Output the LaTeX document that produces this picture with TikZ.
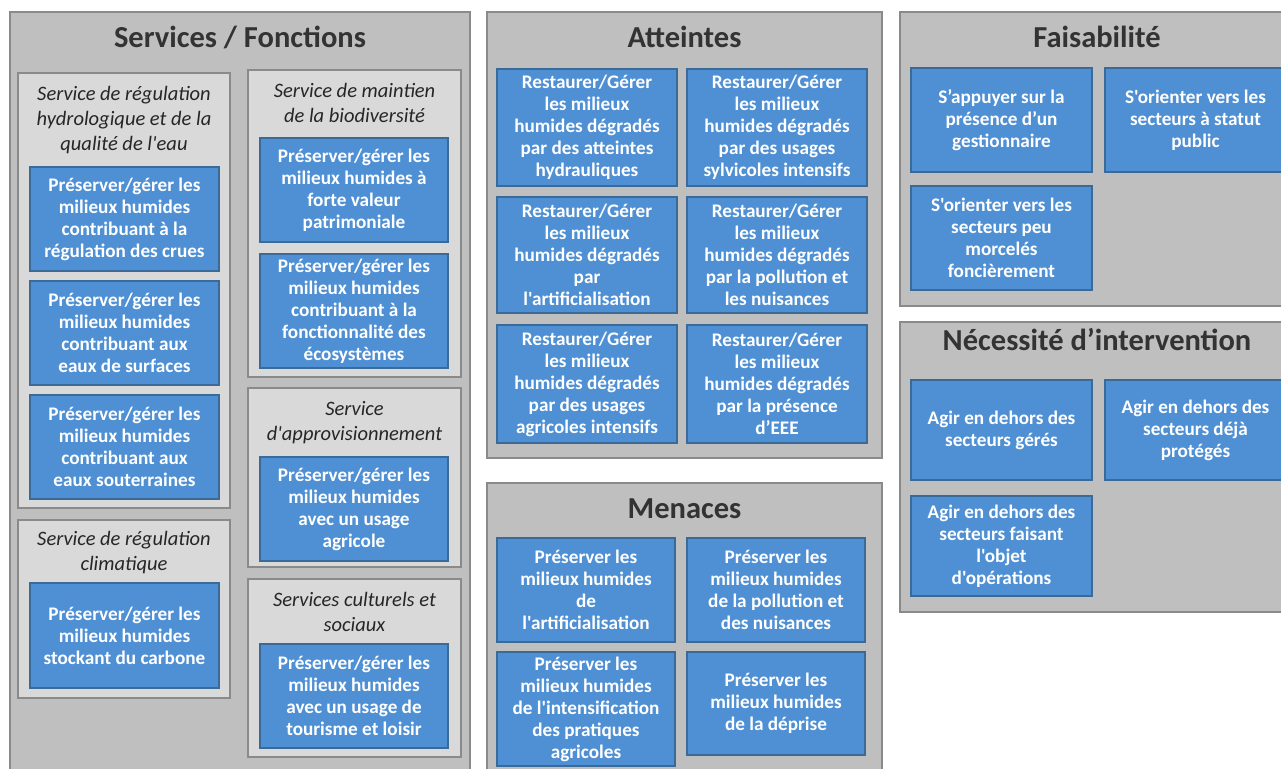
\documentclass[tikz,border=0pt]{standalone}
\usepackage{fontspec}
\newfontfamily\carl{Carlito}
\definecolor{panelfill}{HTML}{BFBFBF}
\definecolor{panelline}{HTML}{8A8A8A}
\definecolor{subfill}{HTML}{D9D9D9}
\definecolor{subline}{HTML}{8A8A8A}
\definecolor{bfill}{HTML}{4F90D4}
\definecolor{bline}{HTML}{3A6A98}
\definecolor{titletext}{HTML}{333333}
\definecolor{headtext}{HTML}{262626}
\tikzset{
  panel/.style={draw=panelline, fill=panelfill, line width=1.5pt, inner sep=0pt},
  subpanel/.style={draw=subline, fill=subfill, line width=1.5pt, inner sep=0pt},
  bbox/.style={draw=bline, fill=bfill, line width=1.3pt, inner sep=0pt, align=center,
    text=white, font=\carl\bfseries\fontsize{19.2}{22}\selectfont},
  ptitle/.style={anchor=base, inner sep=0pt, text=titletext,
    font=\carl\bfseries\fontsize{30.5}{36}\selectfont},
  shead/.style={anchor=north, inner sep=0pt, align=center, text=headtext,
    font=\carl\itshape\fontsize{20.5}{25}\selectfont},
}
% style, name, x1, y1, x2, y2, text
\newcommand{\rbox}[7]{%
  \node[#1, minimum width={#5-#3}, minimum height={#6-#4}] (#2)
    at ({(#3+#5)/2},{(#4+#6)/2}) {#7};}
\begin{document}
\begin{tikzpicture}[x=1pt,y=-1pt]
\useasboundingbox[fill=white] (0,0) rectangle (1281,768);

% ---------------- Services / Fonctions ----------------
\rbox{panel}{services}{10}{12}{470}{775}{}
\node[ptitle] (tservices) at (240,48) {Services / Fonctions};

\rbox{subpanel}{hydro}{18}{73}{230}{508}{}
\node[shead] (hhydro) at (124,82.5) {\strut Service de régulation\\hydrologique et de la\\qualité de l'eau};
\rbox{bbox}{s1}{30}{167}{219}{271}{Préserver/gérer les\\milieux humides\\contribuant à la\\régulation des crues}
\rbox{bbox}{s2}{30}{281}{219}{385}{Préserver/gérer les\\milieux humides\\contribuant aux\\eaux de surfaces}
\rbox{bbox}{s3}{30}{395}{219}{499}{Préserver/gérer les\\milieux humides\\contribuant aux\\eaux souterraines}

\rbox{subpanel}{clim}{18}{520}{230}{698}{}
\node[shead] (hclim) at (124,527.5) {\strut Service de régulation\\climatique};
\rbox{bbox}{s4}{30}{583}{219}{688}{Préserver/gérer les\\milieux humides\\stockant du carbone}

\rbox{subpanel}{bio}{248}{70}{461}{377}{}
\node[shead] (hbio) at (354.5,79.5) {\strut Service de maintien\\de la biodiversité};
\rbox{bbox}{s5}{260}{138}{448}{242}{Préserver/gérer les\\milieux humides à\\forte valeur\\patrimoniale}
\rbox{bbox}{s6}{260}{254}{448}{368}{Préserver/gérer les\\milieux humides\\contribuant à la\\fonctionnalité des\\écosystèmes}

\rbox{subpanel}{appro}{248}{388}{461}{567}{}
\node[shead] (happro) at (354.5,397.5) {\strut Service\\d'approvisionnement};
\rbox{bbox}{s7}{260}{457}{448}{561}{Préserver/gérer les\\milieux humides\\avec un usage\\agricole}

\rbox{subpanel}{cult}{248}{579}{461}{757}{}
\node[shead] (hcult) at (354.5,589) {\strut Services culturels et\\sociaux};
\rbox{bbox}{s8}{260}{644}{448}{748}{Préserver/gérer les\\milieux humides\\avec un usage de\\tourisme et loisir}

% ---------------- Atteintes ----------------
\rbox{panel}{atteintes}{487}{12}{882}{458}{}
\node[ptitle] (tatteintes) at (684.5,48) {Atteintes};
\rbox{bbox}{a1}{497}{69}{677}{186}{Restaurer/Gérer\\les milieux\\humides dégradés\\par des atteintes\\hydrauliques}
\rbox{bbox}{a2}{687}{69}{867}{186}{Restaurer/Gérer\\les milieux\\humides dégradés\\par des usages\\sylvicoles intensifs}
\rbox{bbox}{a3}{497}{197}{677}{313}{Restaurer/Gérer\\les milieux\\humides dégradés\\par\\l'artificialisation}
\rbox{bbox}{a4}{687}{197}{867}{313}{Restaurer/Gérer\\les milieux\\humides dégradés\\par la pollution et\\les nuisances}
\rbox{bbox}{a5}{497}{325}{677}{443}{Restaurer/Gérer\\les milieux\\humides dégradés\\par des usages\\agricoles intensifs}
\rbox{bbox}{a6}{687}{325}{867}{443}{Restaurer/Gérer\\les milieux\\humides dégradés\\par la présence\\d’EEE}

% ---------------- Menaces ----------------
\rbox{panel}{menaces}{487}{483}{882}{775}{}
\node[ptitle] (tmenaces) at (684.5,518) {Menaces};
\rbox{bbox}{m1}{497}{538}{675}{642}{Préserver les\\milieux humides\\de\\l'artificialisation}
\rbox{bbox}{m2}{687}{538}{865}{642}{Préserver les\\milieux humides\\de la pollution et\\des nuisances}
\rbox{bbox}{m3}{497}{652}{675}{766}{Préserver les\\milieux humides\\de l'intensification\\des pratiques\\agricoles}
\rbox{bbox}{m4}{687}{652}{865}{755}{Préserver les\\milieux humides\\de la déprise}

% ---------------- Faisabilité ----------------
\rbox{panel}{faisab}{900}{12}{1294}{306}{}
\node[ptitle] (tfaisab) at (1097,48) {Faisabilité};
\rbox{bbox}{f1}{911}{68}{1092}{172}{S’appuyer sur la\\présence d’un\\gestionnaire}
\rbox{bbox}{f2}{1105}{68}{1286}{172}{S'orienter vers les\\secteurs à statut\\public}
\rbox{bbox}{f3}{911}{186}{1092}{290}{S'orienter vers les\\secteurs peu\\morcelés\\foncièrement}

% ---------------- Nécessité d'intervention ----------------
\rbox{panel}{necess}{900}{322}{1294}{612}{}
\node[ptitle] (tnecess) at (1097,350) {Nécessité d’intervention};
\rbox{bbox}{n1}{911}{380}{1092}{480}{Agir en dehors des\\secteurs gérés}
\rbox{bbox}{n2}{1105}{380}{1286}{480}{Agir en dehors des\\secteurs déjà\\protégés}
\rbox{bbox}{n3}{911}{496}{1092}{596}{Agir en dehors des\\secteurs faisant\\l'objet\\d'opérations}
\end{tikzpicture}
\end{document}
